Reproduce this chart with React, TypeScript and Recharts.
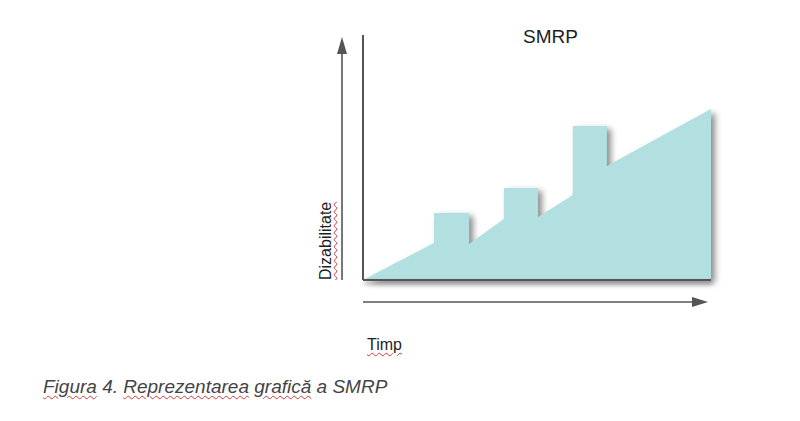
import { AreaChart, Area, XAxis, YAxis } from 'recharts';

// outline of the SMRP shape: time (x) and disability (y), in 0-100 units
const timp = [0, 20.4, 20.4, 30.5, 30.5, 40.5, 40.5, 50.3, 50.3, 60.3, 60.3, 70.1, 70.1, 100];
const dizabilitate = [0, 15.1, 27.3, 27.3, 14.7, 24.9, 37.6, 37.6, 25.7, 34.7, 62.9, 62.9, 46.5, 69.8];

const data = timp.map((t, i) => ({ t, d: dizabilitate[i] }));

const W = 800;
const H = 421;
const PLOT = { left: 363, top: 35, right: 711, bottom: 280 };
const AXIS = '#555555';
const FONT = '"Liberation Sans", Arial, sans-serif';
const squiggle = {
  textDecorationLine: 'underline',
  textDecorationStyle: 'wavy' as const,
  textDecorationColor: '#d03a3a',
  textDecorationThickness: '1px',
  textUnderlineOffset: '2px',
};

export default function App() {
  return (
    <div style={{ position: 'absolute', left: 0, top: 0, width: W, height: H, background: '#fff', fontFamily: FONT }}>
      <style>{`
        .recharts-area-area { filter: drop-shadow(4px 3px 3px rgba(0,0,0,0.45)); }
        .recharts-xAxis .recharts-cartesian-axis-line { filter: drop-shadow(1px 3px 2px rgba(0,0,0,0.4)); }
      `}</style>
      <AreaChart
        width={W}
        height={H}
        data={data}
        margin={{ top: PLOT.top, left: PLOT.left - 1, right: W - PLOT.right, bottom: H - PLOT.bottom - 1 }}
      >
        <XAxis
          dataKey="t"
          type="number"
          domain={[0, 100]}
          height={1}
          tick={false}
          tickLine={false}
          axisLine={{ stroke: AXIS, strokeWidth: 2 }}
        />
        <YAxis
          type="number"
          domain={[0, 100]}
          width={1}
          tick={false}
          tickLine={false}
          axisLine={{ stroke: AXIS, strokeWidth: 2 }}
        />
        <Area
          type="linear"
          dataKey="d"
          stroke="none"
          fill="#b2dfdf"
          fillOpacity={1}
          isAnimationActive={false}
          dot={false}
          activeDot={false}
        />
      </AreaChart>

      {/* axis arrows */}
      <svg width={W} height={H} style={{ position: 'absolute', left: 0, top: 0, pointerEvents: 'none' }}>
        <line x1={342} y1={PLOT.bottom} x2={342} y2={52} stroke={AXIS} strokeWidth={1.6} />
        <polygon points="337,54 347,54 342,37" fill={AXIS} />
        <line x1={PLOT.left} y1={302} x2={694} y2={302} stroke={AXIS} strokeWidth={1.6} />
        <polygon points="692,297 692,307 708,302" fill={AXIS} />
      </svg>

      <div style={{ position: 'absolute', left: 523, top: 27, fontSize: 19, lineHeight: '19px', color: '#1e1e1e' }}>
        SMRP
      </div>
      <div
        style={{
          position: 'absolute',
          left: 318,
          top: 280,
          fontSize: 16,
          lineHeight: '16px',
          color: '#1e1e1e',
          whiteSpace: 'nowrap',
          transform: 'rotate(-90deg)',
          transformOrigin: 'left top',
          ...squiggle,
        }}
      >
        Dizabilitate
      </div>
      <div style={{ position: 'absolute', left: 367, top: 337, fontSize: 16, lineHeight: '16px', color: '#1e1e1e', ...squiggle }}>
        Timp
      </div>
      <div
        style={{
          position: 'absolute',
          left: 43,
          top: 377,
          fontSize: 19,
          lineHeight: '19px',
          fontStyle: 'italic',
          color: '#444',
          whiteSpace: 'nowrap',
        }}
      >
        <span style={squiggle}>Figura</span> 4. <span style={squiggle}>Reprezentarea</span>{' '}
        <span style={squiggle}>grafică</span> a SMRP
      </div>
    </div>
  );
}
